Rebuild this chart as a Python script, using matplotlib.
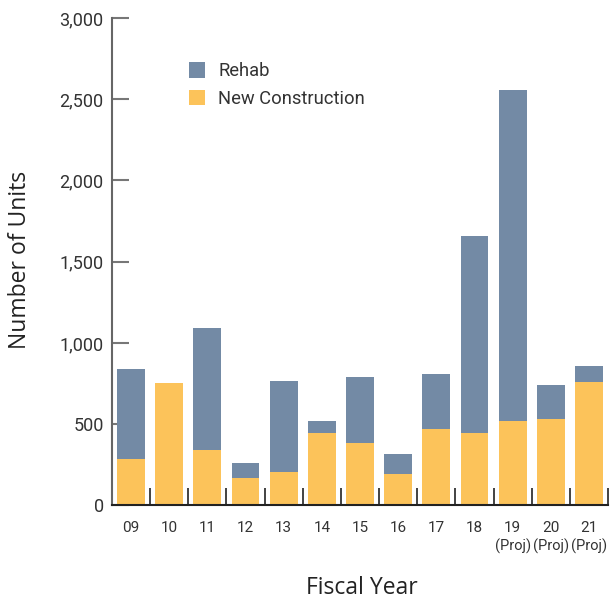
import matplotlib
matplotlib.use("Agg")
import matplotlib.pyplot as plt
import matplotlib.transforms as mtransforms
import numpy as np

years = ["09", "10", "11", "12", "13", "14", "15", "16", "17", "18", "19", "20", "21"]
projected = [False] * 10 + [True, True, True]
new_construction = [285, 752, 340, 168, 205, 445, 383, 193, 470, 445, 518, 531, 759]
rehab = [553, 0, 751, 92, 560, 73, 407, 122, 338, 1211, 2037, 209, 98]
y_ticks = [0, 500, 1000, 1500, 2000, 2500, 3000]

c_rehab = "#738AA5"
c_new = "#FCC35A"

fig = plt.figure(figsize=(6.10, 5.99), dpi=100)
ax = fig.add_axes([0.1836, 0.1564, 0.8131, 0.8136])

x = np.arange(len(years))
w = 0.73
ax.bar(x, new_construction, width=w, color=c_new, label="New Construction", zorder=2)
ax.bar(x, rehab, width=w, bottom=new_construction, color=c_rehab, label="Rehab", zorder=2)

ax.set_xlim(-0.5, len(years) - 0.5)
ax.set_ylim(0, 3000)

for s in ["top", "right"]:
    ax.spines[s].set_visible(False)
ax.spines["left"].set_color("#666666")
ax.spines["left"].set_linewidth(1.5)
ax.spines["bottom"].set_color("#222222")
ax.spines["bottom"].set_linewidth(1.5)
ax.spines["bottom"].set_zorder(3)

ax.set_yticks(y_ticks)
ax.set_yticklabels([f"{v:,}" for v in y_ticks], fontfamily="Roboto", fontsize=13, color="#333333")
ax.tick_params(axis="y", direction="in", length=12, width=1.5, color="#777777", pad=6)

ax.set_xticks(x)
ax.set_xticklabels(years, fontfamily="Roboto", fontsize=11, color="#333333")
ax.tick_params(axis="x", which="major", length=0, pad=11)
ax.set_xticks(np.arange(len(years) + 1) - 0.5, minor=True)
ax.tick_params(axis="x", which="minor", direction="in", length=12, width=1.2, color="#222222")

trans = mtransforms.blended_transform_factory(ax.transData, ax.transAxes)
for xi, p in zip(x, projected):
    if p:
        ax.text(xi, -0.085, "(Proj)", transform=trans, ha="center", va="center",
                fontfamily="Roboto", fontsize=10.5, color="#333333")

fig.text(0.594, 0.0185, "Fiscal Year", ha="center", va="center",
         fontfamily="Open Sans", fontweight="medium", fontsize=16.5, color="#222222")
fig.text(0.033, 0.566, "Number of Units", ha="center", va="center", rotation=90,
         fontfamily="Open Sans", fontweight="medium", fontsize=16.5, color="#222222")

handles, labels = ax.get_legend_handles_labels()
leg = ax.legend(handles[::-1], labels[::-1], loc="upper left", bbox_to_anchor=(0.14, 0.924),
                frameon=False, prop={"family": "Roboto", "size": 13.2},
                handlelength=0.9, handleheight=0.9, handletextpad=0.7, labelspacing=0.5,
                borderaxespad=0)
for t in leg.get_texts():
    t.set_color("#333333")

fig.savefig("out.png", dpi=100)
